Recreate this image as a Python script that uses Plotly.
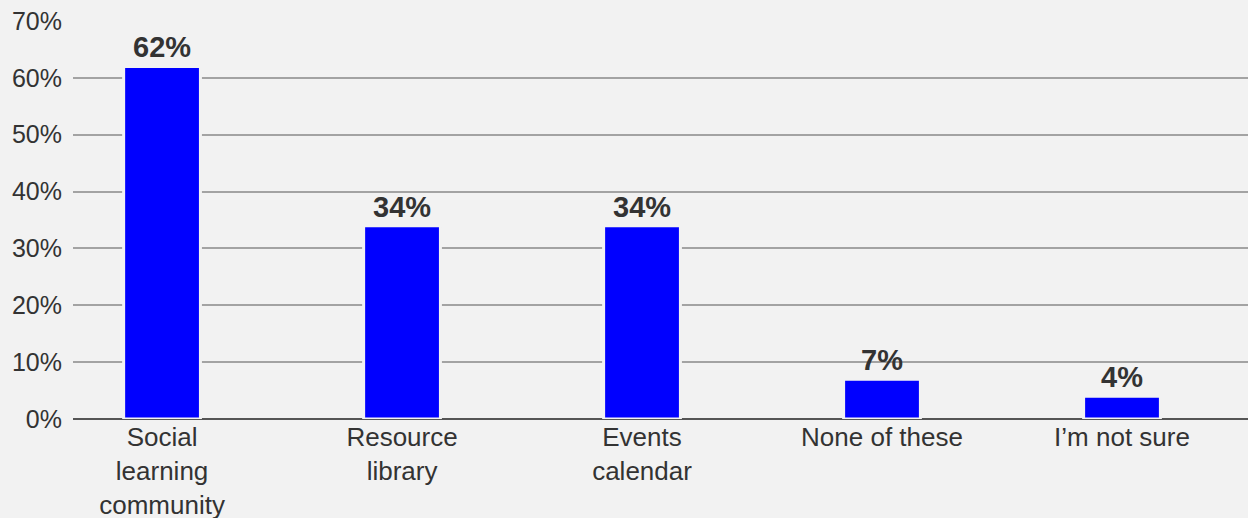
import plotly.graph_objects as go

categories = ["Social<br>learning<br>community", "Resource<br>library", "Events<br>calendar", "None of these", "I\u2019m not sure"]
values = [62, 34, 34, 7, 4]
value_labels = ["62%", "34%", "34%", "7%", "4%"]
y_ticks = [0, 10, 20, 30, 40, 50, 60, 70]
y_tick_labels = ["0%", "10%", "20%", "30%", "40%", "50%", "60%", "70%"]

BG = "#f2f2f2"
FONT = "Liberation Sans, Arial, Helvetica, sans-serif"
TEXT = "#333333"

positions = list(range(len(categories)))

fig = go.Figure(
    go.Bar(
        x=positions,
        y=values,
        width=0.32,
        marker=dict(color="#0000ff", line=dict(color=BG, width=3)),
        hoverinfo="skip",
    )
)

# value labels sitting a little above each bar
for xi, v, lab in zip(positions, values, value_labels):
    fig.add_annotation(
        x=xi, y=v, text=lab, showarrow=False,
        xanchor="center", yanchor="bottom", yshift=1,
        font=dict(family=FONT, size=29, color=TEXT, weight="bold"),
    )

fig.update_layout(
    width=1248,
    height=518,
    paper_bgcolor=BG,
    plot_bgcolor=BG,
    margin=dict(l=73, r=0, t=21, b=99, autoexpand=False),
    showlegend=False,
    font=dict(family=FONT, color=TEXT),
    xaxis=dict(
        range=[-0.371, 4.525],
        tickmode="array",
        tickvals=positions,
        ticktext=categories,
        tickfont=dict(family=FONT, size=26, color=TEXT),
        showgrid=False,
        zeroline=False,
        showline=False,
        ticks="",
        ticklabelstandoff=0,
        automargin=False,
    ),
    yaxis=dict(
        range=[0, 70],
        tickmode="array",
        tickvals=y_ticks,
        ticktext=y_tick_labels,
        tickfont=dict(family=FONT, size=25, color=TEXT),
        showgrid=True,
        gridcolor="#a3a3a3",
        gridwidth=1.5,
        zeroline=True,
        zerolinecolor="#555555",
        zerolinewidth=2,
        ticks="",
        ticklabelstandoff=10,
        automargin=False,
    ),
)

fig.write_html("out.html")
